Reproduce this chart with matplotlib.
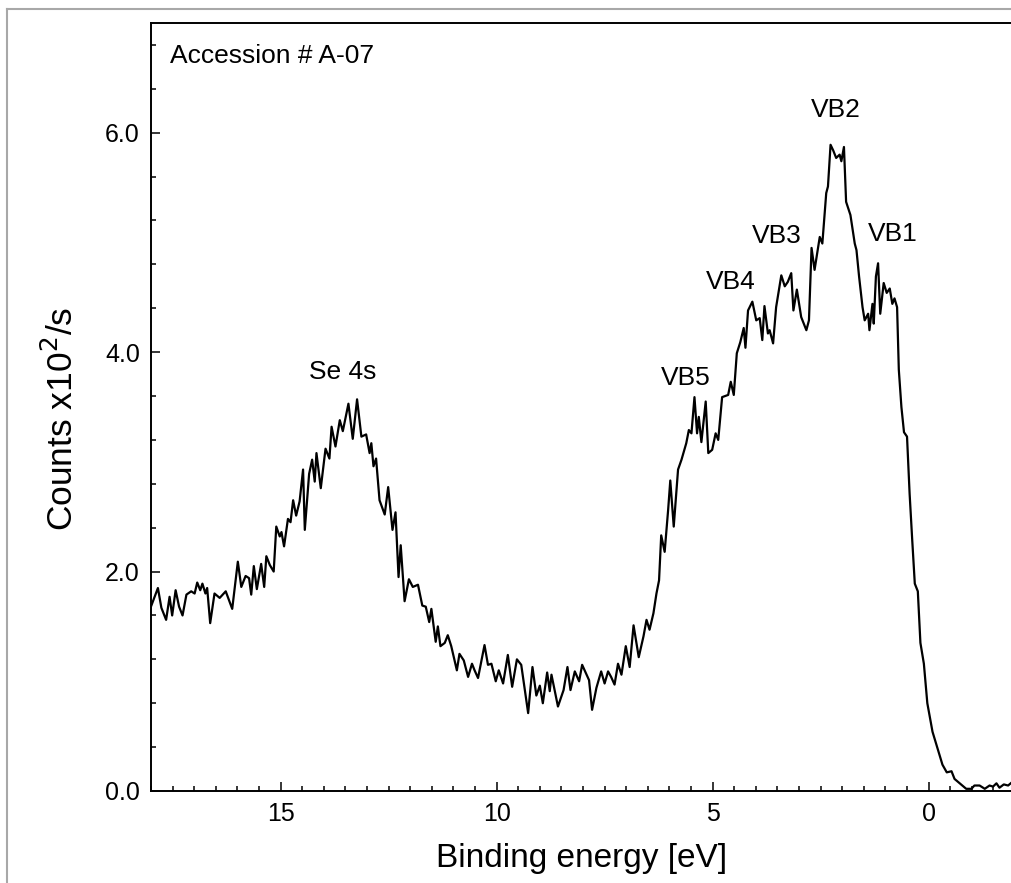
import numpy as np
import matplotlib
matplotlib.use("Agg")
import matplotlib.pyplot as plt
from matplotlib.lines import Line2D
from matplotlib.ticker import MultipleLocator, FormatStrFormatter

plt.rcParams['font.family'] = ['Liberation Sans', 'DejaVu Sans']

# binding energy [eV] and counts [x10^2/s]
energy = np.array([
    18.03, 17.84, 17.76, 17.65, 17.57, 17.51, 17.43, 17.35, 17.27, 17.18,
    17.07, 16.99, 16.93, 16.86, 16.81, 16.74, 16.70, 16.63, 16.53, 16.41,
    16.27, 16.12, 15.99, 15.91, 15.81, 15.73, 15.68, 15.62, 15.55, 15.45,
    15.38, 15.33, 15.25, 15.16, 15.10, 15.02, 14.98, 14.92, 14.83, 14.77,
    14.71, 14.64, 14.56, 14.48, 14.44, 14.34, 14.27, 14.21, 14.17, 14.07,
    13.96, 13.87, 13.82, 13.73, 13.63, 13.56, 13.43, 13.33, 13.23, 13.13,
    13.02, 12.94, 12.90, 12.85, 12.79, 12.71,
    12.59, 12.51, 12.41, 12.34, 12.27, 12.22, 12.13, 12.03, 11.94, 11.82,
    11.72, 11.64, 11.56, 11.51, 11.41, 11.36, 11.30, 11.20, 11.13, 11.05,
    10.92, 10.86, 10.76, 10.66, 10.57, 10.51, 10.43, 10.28, 10.20, 10.12,
    10.02, 9.95, 9.85, 9.74, 9.64, 9.53, 9.43, 9.27, 9.17, 9.08,
    9.00, 8.93, 8.83, 8.77, 8.73, 8.58, 8.45, 8.36, 8.29, 8.19,
    8.09, 8.02, 7.86, 7.79, 7.69, 7.58, 7.50,
    7.42, 7.35, 7.27, 7.19, 7.11, 7.01, 6.92, 6.83, 6.71, 6.60,
    6.53, 6.46, 6.37, 6.30, 6.24, 6.19, 6.11, 6.03, 5.98, 5.90,
    5.80, 5.72, 5.61, 5.55, 5.49, 5.42, 5.36, 5.32, 5.26, 5.16,
    5.10, 5.01, 4.93, 4.87, 4.78, 4.64, 4.58, 4.51, 4.44, 4.36,
    4.28, 4.24, 4.18, 4.08, 3.99, 3.91, 3.85, 3.80, 3.72,
    3.68, 3.60, 3.53, 3.41, 3.33, 3.26, 3.18, 3.13, 3.05, 2.95,
    2.83, 2.77, 2.71, 2.64, 2.52, 2.46, 2.37, 2.33, 2.27, 2.21,
    2.14, 2.06, 2.02, 1.96, 1.91, 1.81, 1.71, 1.67, 1.61, 1.53,
    1.48, 1.40, 1.37, 1.30, 1.27, 1.22, 1.17, 1.12, 1.04, 0.97,
    0.90, 0.84, 0.79, 0.73,
    0.69, 0.63, 0.57, 0.50, 0.44, 0.38, 0.32, 0.25, 0.19, 0.11,
    0.03, -0.09, -0.22, -0.32, -0.42, -0.53, -0.60, -0.72, -0.87, -0.99,
    -1.06, -1.18, -1.30, -1.41, -1.49, -1.57, -1.64, -1.74, -1.84, -1.93,
])
counts = np.array([
    1.65, 1.85, 1.67, 1.56, 1.77, 1.60, 1.83, 1.68, 1.60, 1.79,
    1.82, 1.80, 1.90, 1.83, 1.89, 1.80, 1.85, 1.53, 1.80, 1.76,
    1.82, 1.66, 2.09, 1.86, 1.96, 1.94, 1.79, 2.05, 1.84, 2.07,
    1.86, 2.14, 2.06, 2.00, 2.41, 2.32, 2.36, 2.23, 2.48, 2.45,
    2.65, 2.51, 2.64, 2.93, 2.38, 2.89, 3.02, 2.82, 3.08, 2.76,
    3.12, 3.03, 3.32, 3.14, 3.38, 3.28, 3.53, 3.21, 3.57, 3.23,
    3.25, 3.08, 3.17, 2.96, 3.03, 2.65,
    2.52, 2.77, 2.38, 2.54, 1.95, 2.24, 1.73, 1.93, 1.86, 1.88,
    1.69, 1.68, 1.54, 1.66, 1.36, 1.50, 1.32, 1.35, 1.42, 1.32,
    1.10, 1.25, 1.19, 1.04, 1.16, 1.10, 1.03, 1.33, 1.15, 1.16,
    1.00, 1.10, 0.98, 1.24, 0.95, 1.20, 1.15, 0.71, 1.13, 0.87,
    0.96, 0.80, 1.08, 0.91, 1.06, 0.77, 0.92, 1.13, 0.92, 1.09,
    1.00, 1.15, 1.01, 0.74, 0.94, 1.09, 0.98,
    1.09, 1.04, 0.97, 1.16, 1.06, 1.32, 1.13, 1.51, 1.22, 1.41,
    1.56, 1.47, 1.62, 1.80, 1.92, 2.33, 2.18, 2.56, 2.83, 2.41,
    2.93, 3.02, 3.17, 3.29, 3.26, 3.59, 3.26, 3.41, 3.18, 3.55,
    3.08, 3.11, 3.26, 3.20, 3.59, 3.61, 3.73, 3.61, 3.99, 4.09,
    4.22, 4.04, 4.38, 4.46, 4.29, 4.31, 4.11, 4.42, 4.17,
    4.20, 4.08, 4.41, 4.70, 4.60, 4.64, 4.72, 4.38, 4.57, 4.32,
    4.20, 4.29, 4.95, 4.75, 5.05, 4.99, 5.45, 5.51, 5.89, 5.84,
    5.77, 5.80, 5.74, 5.87, 5.37, 5.25, 4.99, 4.93, 4.69, 4.41,
    4.29, 4.35, 4.20, 4.44, 4.26, 4.69, 4.81, 4.35, 4.63, 4.54,
    4.58, 4.44, 4.49, 4.41,
    3.84, 3.50, 3.27, 3.23, 2.71, 2.29, 1.89, 1.82, 1.35, 1.16,
    0.80, 0.54, 0.37, 0.24, 0.17, 0.18, 0.11, 0.07, 0.02, 0.02,
    0.05, 0.05, 0.02, 0.05, 0.04, 0.07, 0.03, 0.06, 0.05, 0.08,
])

peak_labels = ["Se 4s", "VB5", "VB4", "VB3", "VB2", "VB1"]
peak_x = [13.56, 5.63, 4.57, 3.52, 2.15, 0.84]
peak_y = [3.82, 3.76, 4.64, 5.06, 6.21, 5.08]

W, H = 1012, 883
fig = plt.figure(figsize=(W / 100, H / 100), dpi=100)
# axes is cut off at the right edge of the figure, like the original
ax = fig.add_axes([151 / W, 92 / H, 861 / W, 768 / H])

ax.plot(energy, counts, color='black', lw=1.6)

ax.set_xlim(18, -1.93)
ax.set_ylim(0, 7)

ax.xaxis.set_major_locator(MultipleLocator(5))
ax.xaxis.set_minor_locator(MultipleLocator(0.5))
ax.yaxis.set_major_locator(MultipleLocator(2))
ax.yaxis.set_minor_locator(MultipleLocator(0.4))
ax.yaxis.set_major_formatter(FormatStrFormatter('%.1f'))

ax.tick_params(which='both', direction='in', top=False, right=False,
               width=1.1, labelsize=18)
ax.tick_params(which='major', length=6.5, pad=8)
ax.tick_params(which='minor', length=3.5)
for s in ax.spines.values():
    s.set_linewidth(1.4)
ax.spines['right'].set_visible(False)

ax.set_xlabel("Binding energy [eV]", fontsize=24)
ax.xaxis.set_label_coords(0.5, -0.068)
ax.set_ylabel("Counts x10$^2$/s", fontsize=25.5)
ax.yaxis.set_label_coords(-0.083, 0.484)

ax.text(17.57, 6.70, "Accession # A-07", fontsize=19, ha='left', va='center')
for lab, x, y in zip(peak_labels, peak_x, peak_y):
    ax.text(x, y, lab, fontsize=19, ha='center', va='center')

# grey frame from the screenshot
fig.add_artist(Line2D([7 / W, 1], [1 - 9 / H, 1 - 9 / H],
                      transform=fig.transFigure, color='#a8a8a8', lw=1.5))
fig.add_artist(Line2D([7 / W, 7 / W], [0, 1 - 9 / H],
                      transform=fig.transFigure, color='#a8a8a8', lw=1.5))

fig.savefig("out.png", dpi=100)
